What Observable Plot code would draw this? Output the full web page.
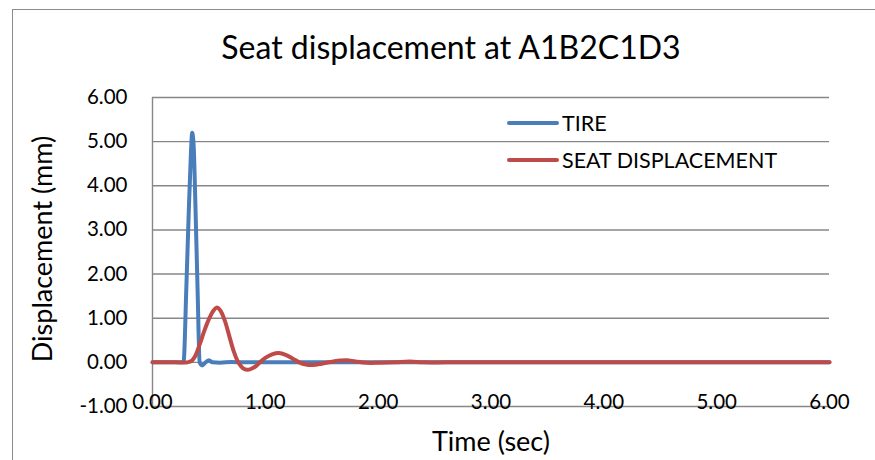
<!DOCTYPE html>
<html>
<head>
<meta charset="utf-8">
<script src="https://cdn.jsdelivr.net/npm/d3@7"></script>
<script src="https://cdn.jsdelivr.net/npm/@observablehq/plot@0.6"></script>
<style>
  html, body { margin: 0; padding: 0; background: #fff; }
  #fig { position: relative; width: 875px; height: 460px; overflow: hidden; font-family: Lato, "Open Sans", sans-serif; color: #000; }
  #frame { position: absolute; left: 11.5px; top: 8.5px; width: 900px; height: 500px; border: 1.3px solid #8c8c8c; box-sizing: border-box; }
  #title { position: absolute; left: 0; width: 902px; top: 27px; text-align: center; font-size: 32px; line-height: 40px; }
  #ylab { position: absolute; left: 41px; top: 249px; transform: translate(-50%, -50%) rotate(-90deg); font-size: 27px; white-space: nowrap; }
  #xlab { position: absolute; left: 491px; top: 440px; transform: translate(-50%, -50%); font-size: 27px; white-space: nowrap; }
  .leg { position: absolute; left: 507px; display: flex; align-items: center; font-size: 21.5px; white-space: nowrap; }
  .leg span.sw { display: inline-block; width: 52px; height: 4px; border-radius: 2px; margin-right: 3px; }
  #chart { position: absolute; left: 0; top: 0; }
</style>
</head>
<body>
<div id="fig">
  <div id="frame"></div>
  <div id="chart"></div>
  <div id="title">Seat displacement at A1B2C1D3</div>
  <div id="ylab">Displacement (mm)</div>
  <div id="xlab">Time (sec)</div>
  <div id="legend"></div>
</div>
<script>
// ---- data ----
const seriesNames = ["TIRE", "SEAT DISPLACEMENT"];
const seriesColors = ["#4a7ebb", "#be4b48"];

const tireTime = [0, 0.10, 0.20, 0.275, 0.30, 0.32, 0.34, 0.352, 0.365, 0.38, 0.40, 0.418, 0.44, 0.47, 0.50, 0.53, 0.60, 0.70, 0.80, 1.00, 1.50, 2.00, 3.00, 4.00, 5.00, 6.00];
const tireDisp = [0, 0, 0, 0, 1.7, 3.3, 4.7, 5.2, 4.9, 3.6, 1.6, 0.0, -0.07, 0.0, 0.05, 0.0, -0.01, 0.01, 0, 0, 0, 0, 0, 0, 0, 0];

const seatTime = [0, 0.10, 0.20, 0.31, 0.35, 0.38, 0.42, 0.46, 0.50, 0.54, 0.57, 0.60, 0.64, 0.68, 0.72, 0.76, 0.80, 0.84, 0.88, 0.92, 0.96, 1.00, 1.06, 1.12, 1.18, 1.24, 1.30, 1.36, 1.42, 1.50, 1.58, 1.66, 1.72, 1.80, 1.90, 2.00, 2.15, 2.28, 2.40, 2.60, 3.00, 4.00, 5.00, 6.00];
const seatDisp = [0, 0, 0, 0, 0.04, 0.15, 0.42, 0.72, 0.98, 1.17, 1.24, 1.18, 0.95, 0.60, 0.25, 0.0, -0.13, -0.17, -0.14, -0.08, 0.02, 0.10, 0.18, 0.21, 0.17, 0.09, 0.0, -0.05, -0.06, -0.03, 0.01, 0.04, 0.05, 0.02, -0.01, -0.01, 0.0, 0.02, 0.0, 0, 0, 0, 0, 0];

const xTicks = [0, 1, 2, 3, 4, 5, 6];
const yTicks = [-1, 0, 1, 2, 3, 4, 5, 6];
const yGrid = [0, 1, 2, 3, 4, 5, 6];

const tireRows = tireTime.map((t, i) => ({series: seriesNames[0], t, v: tireDisp[i]}));
const seatRows = seatTime.map((t, i) => ({series: seriesNames[1], t, v: seatDisp[i]}));

const fmt = d => d.toFixed(2);

const chart = Plot.plot({
  width: 875,
  height: 460,
  marginLeft: 152,
  marginRight: 46,
  marginTop: 97,
  marginBottom: 54,
  style: {fontFamily: "Lato, 'Open Sans', sans-serif", fontSize: "20px", color: "#000", background: "transparent", overflow: "visible"},
  x: {domain: [0, 6]},
  y: {domain: [-1, 6]},
  color: {domain: seriesNames, range: seriesColors},
  marks: [
    Plot.ruleY(yGrid, {stroke: "#878787", strokeWidth: 1.4}),
    Plot.ruleY([-1], {stroke: "#878787", strokeWidth: 1.4}),
    Plot.ruleX([0], {y1: -1, y2: 6, stroke: "#878787", strokeWidth: 1.4}),
    Plot.axisY(yTicks, {tickSize: 0, tickPadding: 25, tickFormat: fmt, label: null, fontSize: 20.5}),
    Plot.axisX(xTicks, {tickSize: 0, tickPadding: -12, tickFormat: fmt, label: null, fontSize: 20.5}),
    Plot.line(tireRows, {x: "t", y: "v", stroke: "series", strokeWidth: 4, curve: "monotone-x", strokeLinecap: "round", strokeLinejoin: "round"}),
    Plot.line(seatRows, {x: "t", y: "v", stroke: "series", strokeWidth: 4, curve: "catmull-rom", strokeLinecap: "round", strokeLinejoin: "round"})
  ]
});
document.getElementById("chart").appendChild(chart);

// legend
const legend = document.getElementById("legend");
const legTops = [123, 160];
seriesNames.forEach((name, i) => {
  const div = document.createElement("div");
  div.className = "leg";
  div.style.top = (legTops[i] - 13) + "px";
  div.style.height = "26px";
  const sw = document.createElement("span");
  sw.className = "sw";
  sw.style.background = seriesColors[i];
  div.appendChild(sw);
  div.appendChild(document.createTextNode(name));
  legend.appendChild(div);
});
</script>
</body>
</html>
